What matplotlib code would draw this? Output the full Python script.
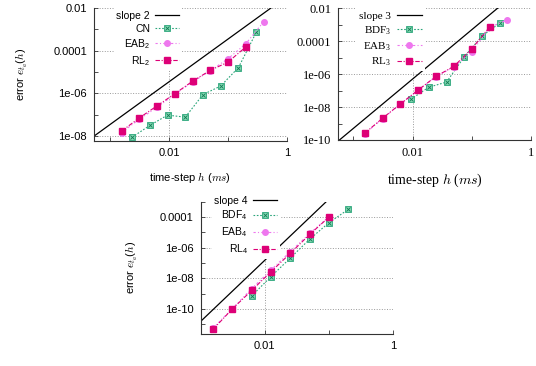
import numpy as np
import matplotlib
matplotlib.use('Agg')
import matplotlib.pyplot as plt
from matplotlib.ticker import FixedLocator, FixedFormatter, NullFormatter

# ---- data ----
# panel 1 (order 2)
h_cn = [0.00234375, 0.0046875, 0.009375, 0.01875, 0.0375, 0.075, 0.15, 0.3]
err_cn = [8.7e-9, 3.1e-8, 9.5e-8, 7.6e-8, 8.7e-7, 2.2e-6, 1.6e-5, 7.1e-4]
h_eab2 = [0.0015625, 0.003125, 0.00625, 0.0125, 0.025, 0.05, 0.1, 0.2, 0.4]
err_eab2 = [1.45e-8, 6.2e-8, 2.2e-7, 9.1e-7, 3.4e-6, 1.15e-5, 4.2e-5, 2.1e-4, 2.2e-3]
h_rl2 = [0.0015625, 0.003125, 0.00625, 0.0125, 0.025, 0.05, 0.1, 0.2]
err_rl2 = [1.7e-8, 7.1e-8, 2.6e-7, 9.6e-7, 3.7e-6, 1.2e-5, 2.9e-5, 1.5e-4]

# panel 2 (order 3)
h_bdf3 = [0.009375, 0.01875, 0.0375, 0.075, 0.15, 0.3]
err_bdf3 = [2.95e-8, 1.6e-7, 3.3e-7, 1.15e-5, 2.1e-4, 1.3e-3]
h_eab3 = [0.0015625, 0.003125, 0.00625, 0.0125, 0.025, 0.05, 0.1, 0.2, 0.4]
err_eab3 = [2.4e-10, 2.0e-9, 1.5e-8, 1.05e-7, 7.0e-7, 2.8e-6, 2.3e-5, 7.0e-4, 2.0e-3]
h_rl3 = [0.0015625, 0.003125, 0.00625, 0.0125, 0.025, 0.05, 0.1, 0.2]
err_rl3 = [2.6e-10, 2.1e-9, 1.55e-8, 1.1e-7, 7.4e-7, 3.0e-6, 3.5e-5, 7.3e-4]

# panel 3 (order 4)
h_bdf4 = [0.00625, 0.0125, 0.025, 0.05, 0.1, 0.2]
err_bdf4 = [7.0e-10, 1.3e-8, 2.1e-7, 3.6e-6, 4.3e-5, 3.2e-4]
h_eab4 = [0.0015625, 0.003125, 0.00625, 0.0125, 0.025, 0.05, 0.1]
err_eab4 = [5.5e-12, 1.05e-10, 2.1e-9, 3.5e-8, 5.5e-7, 8.5e-6, 1.05e-4]
h_rl4 = [0.0015625, 0.003125, 0.00625, 0.0125, 0.025, 0.05, 0.1]
err_rl4 = [4.6e-12, 1.0e-10, 1.6e-9, 2.7e-8, 4.3e-7, 7.3e-6, 1.0e-4]

# reference slopes: err = C * h^p
slope_order = [2, 3, 4]
slope_coef = [0.035, 0.5, 15.0]

x_labels = ['0.01', '1']
x_major = [0.01, 1.0]
x_minor = [0.001, 0.1]

GREEN = '#2aa57a'
GREEN_FACE = '#7fd8b0'
VIOLET = '#ee77ee'
MAGENTA = '#dd0077'

plt.rcParams['mathtext.fontset'] = 'cm'
plt.rcParams['mathtext.default'] = 'regular'

fig = plt.figure(figsize=(5.36, 3.66), dpi=100)
ax1 = fig.add_axes([0.1754, 0.6156, 0.360, 0.3626])
ax2 = fig.add_axes([0.6312, 0.6175, 0.3595, 0.3598])
ax3 = fig.add_axes([0.3741, 0.0874, 0.3597, 0.3615])


def style_axes(ax, xlim, ylim, ymajor, ylabels, yminor, family, size):
    ax.set_xscale('log')
    ax.set_yscale('log')
    ax.set_xlim(xlim)
    ax.set_ylim(ylim)
    ax.xaxis.set_major_locator(FixedLocator(x_major))
    ax.xaxis.set_major_formatter(FixedFormatter(x_labels))
    ax.xaxis.set_minor_locator(FixedLocator(x_minor))
    ax.xaxis.set_minor_formatter(NullFormatter())
    ax.yaxis.set_major_locator(FixedLocator(ymajor))
    ax.yaxis.set_major_formatter(FixedFormatter(ylabels))
    ax.yaxis.set_minor_locator(FixedLocator(yminor))
    ax.yaxis.set_minor_formatter(NullFormatter())
    ax.tick_params(which='both', direction='in', length=3, width=0.6,
                   color='#333333', labelsize=size, pad=5)
    for lab in ax.get_xticklabels() + ax.get_yticklabels():
        lab.set_family(family)
    ax.spines['top'].set_visible(False)
    ax.spines['right'].set_visible(False)
    for s in ['left', 'bottom']:
        ax.spines[s].set_linewidth(0.8)
        ax.spines[s].set_color('#333333')
    ax.grid(True, which='major', linestyle=':', linewidth=0.7, color='#999999')
    ax.set_axisbelow(True)


def draw_panel(ax, p, C, xlim, series):
    hs = np.logspace(np.log10(xlim[0]), np.log10(xlim[1]), 50)
    slope, = ax.plot(hs, C * hs ** p, color='black', lw=0.9)
    (h_a, e_a, lab_a), (h_b, e_b, lab_b), (h_c, e_c, lab_c) = series
    # green series: boxed x
    g1, = ax.plot(h_a, e_a, color=GREEN, ls=(0, (1.5, 1.5)), lw=0.8, marker='s', ms=4,
                  mfc=GREEN_FACE, mec=GREEN, mew=0.6)
    g2, = ax.plot(h_a, e_a, ls='none', marker='x', ms=3, mec='#137a55', mew=0.6)
    v, = ax.plot(h_b, e_b, color=VIOLET, ls=(0, (2, 2, 1, 2)), lw=0.8, marker='o', ms=4,
                 mfc=VIOLET, mec=VIOLET)
    m, = ax.plot(h_c, e_c, color=MAGENTA, ls=(0, (4, 1.5, 1, 1.5)), lw=0.8, marker='s', ms=4,
                 mfc=MAGENTA, mec=MAGENTA)
    handles = [slope, (g1, g2), v, m]
    labels = ['slope %d' % p, lab_a, lab_b, lab_c]
    return handles, labels


def add_legend(ax, hd, lb, anchor, family, size):
    ax.legend(hd, lb, loc='upper right', bbox_to_anchor=anchor,
              markerfirst=False, frameon=True, facecolor='white', edgecolor='none',
              framealpha=1, fancybox=False, borderpad=0.25, handlelength=2.3,
              handletextpad=0.5, labelspacing=0.3, borderaxespad=0,
              prop={'family': family, 'size': size})


# panel 1
style_axes(ax1, (5.3e-4, 1.0), (6e-9, 1e-2), [1e-2, 1e-4, 1e-6, 1e-8],
           ['0.01', '0.0001', '1e-06', '1e-08'], [1e-3, 1e-5, 1e-7],
           'Liberation Sans', 8)
hd, lb = draw_panel(ax1, slope_order[0], slope_coef[0], (5.3e-4, 1.0),
                    [(h_cn, err_cn, 'CN'), (h_eab2, err_eab2, 'EAB$_2$'),
                     (h_rl2, err_rl2, 'RL$_2$')])
add_legend(ax1, hd, lb, (0.455, 1.0), 'Liberation Sans', 7.5)
ax1.set_xlabel(r'time-step $\mathit{h}$ $(\mathit{ms})$', family='Liberation Sans',
               fontsize=8, labelpad=9)
ax1.set_ylabel(r'error $\mathit{e}_{\mathit{t}_{\mathit{a}}}(\mathit{h})$',
               family='Liberation Sans', fontsize=8, labelpad=17)

# panel 2 (serif)
style_axes(ax2, (5.6e-4, 1.0), (1e-10, 1e-2), [1e-2, 1e-4, 1e-6, 1e-8, 1e-10],
           ['0.01', '0.0001', '1e-06', '1e-08', '1e-10'], [1e-3, 1e-5, 1e-7, 1e-9],
           'Liberation Serif', 9)
hd, lb = draw_panel(ax2, slope_order[1], slope_coef[1], (5.6e-4, 1.0),
                    [(h_bdf3, err_bdf3, 'BDF$_3$'), (h_eab3, err_eab3, 'EAB$_3$'),
                     (h_rl3, err_rl3, 'RL$_3$')])
add_legend(ax2, hd, lb, (0.45, 1.0), 'Liberation Serif', 8)
ax2.set_xlabel(r'time-step $\mathit{h}$ $(\mathit{ms})$', family='Liberation Serif',
               fontsize=10, labelpad=9)

# panel 3
style_axes(ax3, (1e-3, 1.0), (2.3e-12, 1e-3), [1e-4, 1e-6, 1e-8, 1e-10],
           ['0.0001', '1e-06', '1e-08', '1e-10'], [1e-3, 1e-5, 1e-7, 1e-9, 1e-11],
           'Liberation Sans', 8)
hd, lb = draw_panel(ax3, slope_order[2], slope_coef[2], (1e-3, 1.0),
                    [(h_bdf4, err_bdf4, 'BDF$_4$'), (h_eab4, err_eab4, 'EAB$_4$'),
                     (h_rl4, err_rl4, 'RL$_4$')])
add_legend(ax3, hd, lb, (0.41, 1.066), 'Liberation Sans', 7.5)
ax3.set_ylabel(r'error $\mathit{e}_{\mathit{t}_{\mathit{a}}}(\mathit{h})$',
               family='Liberation Sans', fontsize=8, labelpad=14)

fig.savefig('out.png', dpi=100)
